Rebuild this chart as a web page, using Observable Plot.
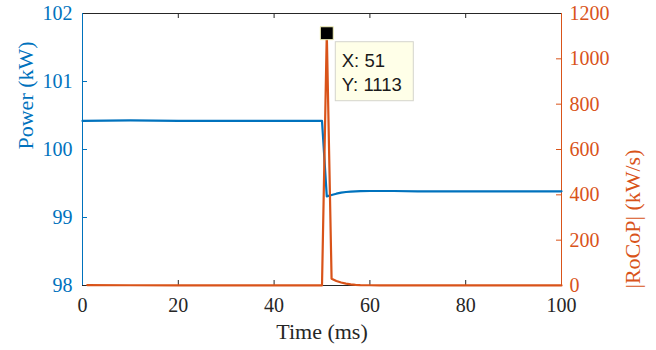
<!DOCTYPE html>
<html><head><meta charset="utf-8">
<script src="https://cdn.jsdelivr.net/npm/d3@7"></script>
<script src="https://cdn.jsdelivr.net/npm/@observablehq/plot@0.6"></script>
<style>
body{margin:0;background:#fff}
#chart{position:relative;width:656px;height:350px}
#chart svg text{font-family:"Liberation Serif","Times New Roman",serif !important;font-variant:normal !important}
#chart svg text.tip{font-family:"Liberation Sans",Arial,sans-serif !important}
</style>
</head><body><div id="chart"></div>
<script>
// ---- data ----
const powerTime = [0, 5, 10, 15, 20, 30, 40, 45, 50, 51, 52, 53, 54, 55, 56, 58, 60, 65, 70, 80, 90, 100];
const powerKW   = [100.42, 100.425, 100.428, 100.425, 100.422, 100.42, 100.422, 100.422, 100.422, 99.31, 99.33, 99.35, 99.365, 99.375, 99.38, 99.388, 99.39, 99.39, 99.385, 99.384, 99.385, 99.385];
const rocopTime = [1, 10, 20, 30, 40, 50, 51, 52, 53, 54, 55, 56, 57, 58, 60, 62, 65, 70, 80, 90, 100];
const rocopKWs  = [2, 1, 0.5, 0.5, 0.5, 0.5, 1113, 30, 20, 13, 8, 5, 3, 2, 1, 0.5, 0.3, 0.2, 0.2, 0.2, 0.2];
const xTicks = [0, 20, 40, 60, 80, 100];
const leftTicks = [98, 99, 100, 101, 102];
const rightTicks = [0, 200, 400, 600, 800, 1000, 1200];
const tipX = [51];
const tipY = [1113];
const tipLines = ["X: 51", "Y: 1113"];

// ---- styling ----
const blue = "#0072BD", orange = "#D95319", dark = "#262626";
const W = 656, H = 350, mL = 82, mR = 95, mT = 13, mB = 65;
const pw = W - mL - mR, ph = H - mT - mB, tick = 5;
const serif = "Liberation Serif, Times New Roman, serif";

// map right-axis values into left-axis space
const L0 = 98, L1 = 102, R0 = 0, R1 = 1200;
const toLeft = v => L0 + (v - R0) * (L1 - L0) / (R1 - R0);
const fromLeft = y => R0 + (y - L0) * (R1 - R0) / (L1 - L0);

const power = powerTime.map((t, i) => ({t, v: powerKW[i]}));
const rocop = rocopTime.map((t, i) => ({t, v: toLeft(rocopKWs[i])}));
const tip = tipX.map((x, i) => ({x, y: toLeft(tipY[i])}));

const axisFont = {fontFamily: serif, fontSize: 20};

const plot = Plot.plot({
  width: W, height: H,
  marginLeft: mL, marginRight: mR, marginTop: mT, marginBottom: mB,
  style: {fontFamily: serif, background: "#fff", overflow: "visible"},
  x: {domain: [0, 100]},
  y: {domain: [L0, L1]},
  marks: [
    // tick labels
    Plot.axisX(xTicks, {anchor: "bottom", tickSize: 0, tickPadding: 12, color: dark, label: null, tickFormat: d => String(d), ...axisFont}),
    Plot.axisY(leftTicks, {anchor: "left", tickSize: 0, tickPadding: 10, color: blue, label: null, tickFormat: d => String(d), ...axisFont}),
    Plot.axisY(rightTicks.map(toLeft), {anchor: "right", tickSize: 0, tickPadding: 8, color: orange, label: null,
      tickFormat: d => String(Math.round(fromLeft(d))), ...axisFont}),
    // inward ticks
    Plot.tickX(xTicks, {x: d => d, insetTop: ph - tick, stroke: dark}),
    Plot.tickX(xTicks, {x: d => d, insetBottom: ph - tick, stroke: dark}),
    Plot.tickY(leftTicks, {y: d => d, insetRight: pw - tick, stroke: blue}),
    Plot.tickY(rightTicks.map(toLeft), {y: d => d, insetLeft: pw - tick, stroke: orange}),
    // box
    Plot.ruleY([L0], {stroke: dark}),
    Plot.ruleY([L1], {stroke: dark}),
    Plot.ruleX([0], {stroke: blue}),
    Plot.ruleX([100], {stroke: orange}),
    // series
    Plot.line(power, {x: "t", y: "v", stroke: blue, strokeWidth: 2.2}),
    Plot.line(rocop, {x: "t", y: "v", stroke: orange, strokeWidth: 2.2}),
    // axis titles
    Plot.text(["Power (kW)"], {frameAnchor: "left", rotate: -90, dx: -57, fill: blue, fontSize: 22, fontFamily: serif}),
    Plot.text(["|RoCoP| (kW/s)"], {frameAnchor: "right", rotate: -90, dx: 71, fill: orange, fontSize: 22, fontFamily: serif}),
    Plot.text(["Time (ms)"], {frameAnchor: "bottom", dy: 53, fill: dark, fontSize: 22, fontFamily: serif}),
    // datatip marker
    Plot.dot(tip, {x: "x", y: "y", symbol: "square", r: 7.3, fill: "#000", stroke: "#f2f0b8", strokeWidth: 1})
  ]
});

// datatip box, placed through the plot's scales
const sx = plot.scale("x"), sy = plot.scale("y");
const px = sx.apply(tip[0].x), py = sy.apply(tip[0].y);
const g = d3.select(plot).append("g").attr("text-anchor", "start");
g.append("rect").attr("x", px + 9).attr("y", py + 9).attr("width", 78).attr("height", 59)
  .attr("fill", "#ffffe8").attr("stroke", "#d4d4cc").attr("stroke-width", 1);
g.selectAll("text.tip").data(tipLines).join("text").attr("class", "tip")
  .attr("x", px + 15.5).attr("y", (d, i) => py + 34 + i * 24.5)
  .attr("text-anchor", "start")
  .attr("font-size", 18.5).attr("fill", "#1a1a1a")
  .text(d => d);

document.getElementById("chart").appendChild(plot);
</script>
</body></html>
